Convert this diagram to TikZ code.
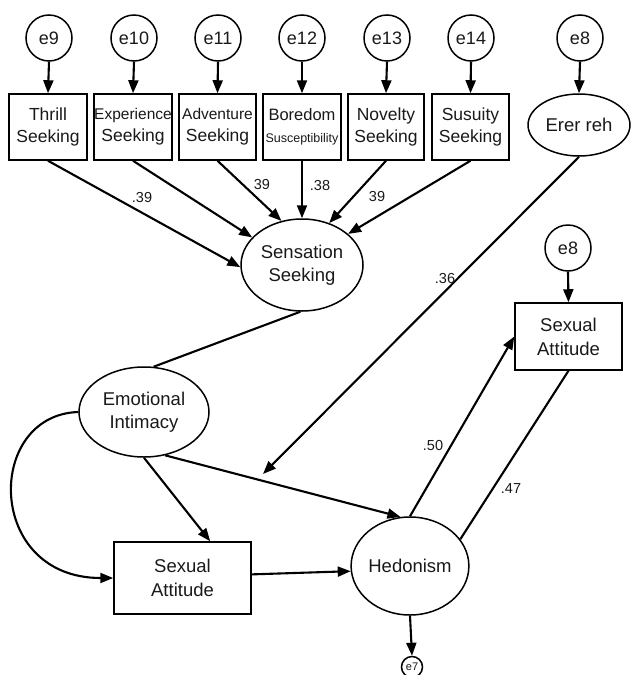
\documentclass[tikz,border=0pt]{standalone}
\usepackage{fontspec}
\setmainfont{Liberation Sans}
\usetikzlibrary{arrows.meta,shapes.geometric,calc}
\begin{document}
\begin{tikzpicture}[x=1pt,y=-1pt,
  every node/.style={inner sep=0pt, align=center, text=black!90},
  err/.style={circle, draw, line width=1.5pt, minimum size=46pt, font=\fontsize{18}{20}\selectfont},
  obs/.style={rectangle, draw, line width=1.5pt, minimum width=78pt, minimum height=66pt, font=\fontsize{17.5}{22}\selectfont},
  lat/.style={ellipse, draw, line width=1.5pt, font=\fontsize{18.5}{23}\selectfont},
  arr/.style={-{Triangle[length=13pt,width=10pt]}, line width=2.1pt},
  ln/.style={line width=2.1pt},
  coef/.style={font=\fontsize{14.5}{16}\selectfont}
]
\useasboundingbox (0,0) rectangle (630,675);

% error circles (top)
\node[err] (e9)  at (49,38)  {e9};
\node[err] (e10) at (134,38) {e10};
\node[err] (e11) at (218,38) {e11};
\node[err] (e12) at (302,38) {e12};
\node[err] (e13) at (387,38) {e13};
\node[err] (e14) at (471,38) {e14};
\node[err] (e8a) at (580,38) {e8};

% observed indicators
\node[obs] (thr) at (48,127) {Thrill\\Seeking};
\node[obs] (exp) at (133,127) {{\fontsize{15.5}{22}\selectfont Experience}\\Seeking};
\node[obs, minimum width=77pt] (adv) at (217.5,127) {{\fontsize{15.5}{22}\selectfont Adventure}\\Seeking};
\node[obs] (bor) at (302,127) {{\fontsize{16.5}{22}\selectfont Boredom}\\{\fontsize{12.5}{22}\selectfont Susceptibility}};
\node[obs, minimum width=76pt] (nov) at (386,127) {Novelty\\Seeking};
\node[obs, minimum width=77pt] (sus) at (470.5,127) {Susuity\\Seeking};

% latent / other nodes
\node[lat, minimum width=102pt, minimum height=62pt] (erer) at (579,125) {Erer reh};
\node[lat, minimum width=122pt, minimum height=92pt] (sens) at (302,265) {Sensation\\Seeking};
\node[lat, minimum width=130pt, minimum height=90pt] (emo) at (144,412) {Emotional\\Intimacy};
\node[lat, minimum width=106pt, minimum height=98pt] (hed) at (410,566) {Hedonism};
\node[err] (e8b) at (568,248) {e8};
\node[obs, minimum width=107pt, minimum height=67pt, font=\fontsize{18.5}{24}\selectfont] (sar) at (568.5,336.5) {Sexual\\Attitude};
\node[obs, minimum width=137pt, minimum height=72pt, font=\fontsize{18.5}{24}\selectfont] (sab) at (182.5,578) {Sexual\\Attitude};
\node[circle, draw, line width=1.5pt, minimum size=21pt, font=\fontsize{11}{12}\selectfont] (e7) at (412,667) {e7};

% error arrows
\foreach \a/\b in {e9/thr,e10/exp,e11/adv,e12/bor,e13/nov,e14/sus,e8a/erer,e8b/sar}
  \draw[arr] (\a.south) -- (\b.north);

% indicators to Sensation Seeking
\draw[arr] (thr.south) -- (sens.182);
\draw[arr] (exp.south) -- (sens.151);
\draw[arr] (adv.south) -- (sens.115);
\draw[arr] (bor.south) -- (sens.90);
\draw[arr] (nov.south) -- (sens.57);
\draw[arr] (sus.south) -- (sens.34);

% structural paths
\coordinate (tip36) at (263,474);
\draw[arr] (erer.south) -- (tip36);
\draw[ln] (sens.268) -- (emo.78);
\draw[arr] (emo.west) .. controls (-15,415) and (-15,578) .. (sab.west);
\draw[arr] (emo.south) -- ($(sab.north west)!0.7!(sab.north east)$);
\draw[arr] (emo.-64) -- (hed.101);
\draw[arr] (sab.3) -- (hed.185);
\draw[arr] (hed.north) -- (sar.west);
\draw[ln] (sar.south) -- (hed.28);
\draw[arr] (hed.south) -- (e7.north);

% coefficients
\node[coef] (c1) at (142,198) {.39};
\node[coef] (c2) at (262,185) {39};
\node[coef] (c3) at (320,186) {.38};
\node[coef] (c4) at (377,197) {39};
\node[coef] (c5) at (445,279) {.36};
\node[coef] (c6) at (433,446) {.50};
\node[coef] (c7) at (511,489) {.47};
\end{tikzpicture}
\end{document}
